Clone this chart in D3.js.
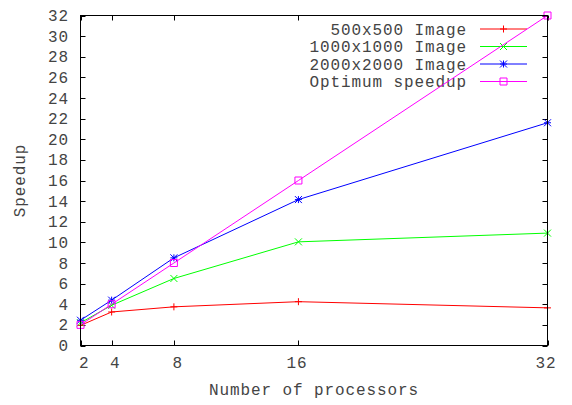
<!DOCTYPE html>
<html><head><meta charset="utf-8">
<script src="https://cdn.jsdelivr.net/npm/d3@7"></script>
<style>
body{margin:0;background:#fff;}
text{font-family:"Liberation Mono","DejaVu Sans Mono",monospace;font-size:16px;letter-spacing:0.9px;fill:#444;}
</style></head>
<body><svg id="c" width="572" height="405"></svg>
<script>
const processors = [2, 4, 8, 16, 32];
const seriesNames = ["500x500 Image", "1000x1000 Image", "2000x2000 Image", "Optimum speedup"];
const img500 = [1.95, 3.25, 3.75, 4.25, 3.65];
const img1000 = [2.2, 3.9, 6.5, 10.05, 10.9];
const img2000 = [2.45, 4.4, 8.5, 14.15, 21.6];
const optimum = [2, 4, 8, 16, 32];
const yTicks = d3.range(0, 33, 2);
const colors = ["#ff0000", "#00ff00", "#0000ff", "#ff00ff"];
const markers = ["plus", "cross", "star", "square"];
const allSeries = [img500, img1000, img2000, optimum];

const svg = d3.select("#c");
const L = 80.5, R = 547.5, T = 15.5, B = 345.5;
const x = d3.scaleLinear().domain([2, 32]).range([L, R]);
const y = d3.scaleLinear().domain([0, 32]).range([B, T]);

function marker(g, type, cx, cy, color) {
  const s = 3.5;
  let d = "";
  if (type === "plus" || type === "star") d += `M${cx-s},${cy}H${cx+s}M${cx},${cy-s}V${cy+s}`;
  if (type === "cross" || type === "star") d += `M${cx-s},${cy-s}L${cx+s},${cy+s}M${cx-s},${cy+s}L${cx+s},${cy-s}`;
  if (type === "square") d += `M${cx-3.5},${cy-3.5}h7v7h-7z`;
  g.append("path").attr("d", d).attr("fill", "none").attr("stroke", color).attr("stroke-width", 1);
}

// ticks (inward, mirrored)
const tk = 5;
const tg = svg.append("g").attr("stroke", "#000").attr("stroke-width", 1);
yTicks.forEach(v => {
  const yy = Math.round(y(v)) + 0.5;
  tg.append("line").attr("x1", L).attr("x2", L + tk).attr("y1", yy).attr("y2", yy);
  tg.append("line").attr("x1", R).attr("x2", R - tk).attr("y1", yy).attr("y2", yy);
});
processors.forEach(v => {
  const xx = Math.round(x(v)) + 0.5;
  tg.append("line").attr("x1", xx).attr("x2", xx).attr("y1", B).attr("y2", B - tk);
  tg.append("line").attr("x1", xx).attr("x2", xx).attr("y1", T).attr("y2", T + tk);
});

// tick labels
svg.append("g").selectAll("text").data(yTicks).join("text")
  .attr("x", 69).attr("y", d => y(d) + 5.5).attr("text-anchor", "end").text(d => d);
svg.append("g").selectAll("text").data(processors).join("text")
  .attr("x", d => x(d) + 9).attr("y", 368).attr("text-anchor", "end").text(d => d);

// axis labels
svg.append("text").attr("x", (L + R) / 2).attr("y", 395).attr("text-anchor", "middle").text("Number of processors");
svg.append("text").attr("transform", `translate(25,${(T + B) / 2}) rotate(-90)`).attr("text-anchor", "middle").text("Speedup");

// legend
const legY = [29, 46.5, 64, 81.5];
seriesNames.forEach((n, i) => {
  svg.append("text").attr("x", 467).attr("y", legY[i] + 5.5).attr("text-anchor", "end").text(n);
  svg.append("line").attr("x1", 480).attr("x2", 527).attr("y1", legY[i]).attr("y2", legY[i])
    .attr("stroke", colors[i]).attr("stroke-width", 1);
  marker(svg, markers[i], 503.5, legY[i], colors[i]);
});

// series
const line = d3.line().x((d, i) => x(processors[i])).y(d => y(d));
allSeries.forEach((s, i) => {
  svg.append("path").datum(s).attr("d", line).attr("fill", "none").attr("stroke", colors[i]).attr("stroke-width", 1);
  const g = svg.append("g");
  s.forEach((v, j) => marker(g, markers[i], x(processors[j]), y(v), colors[i]));
});

// frame
svg.append("rect").attr("x", L).attr("y", T).attr("width", R - L).attr("height", B - T)
  .attr("fill", "none").attr("stroke", "#000").attr("stroke-width", 1);
</script></body></html>
